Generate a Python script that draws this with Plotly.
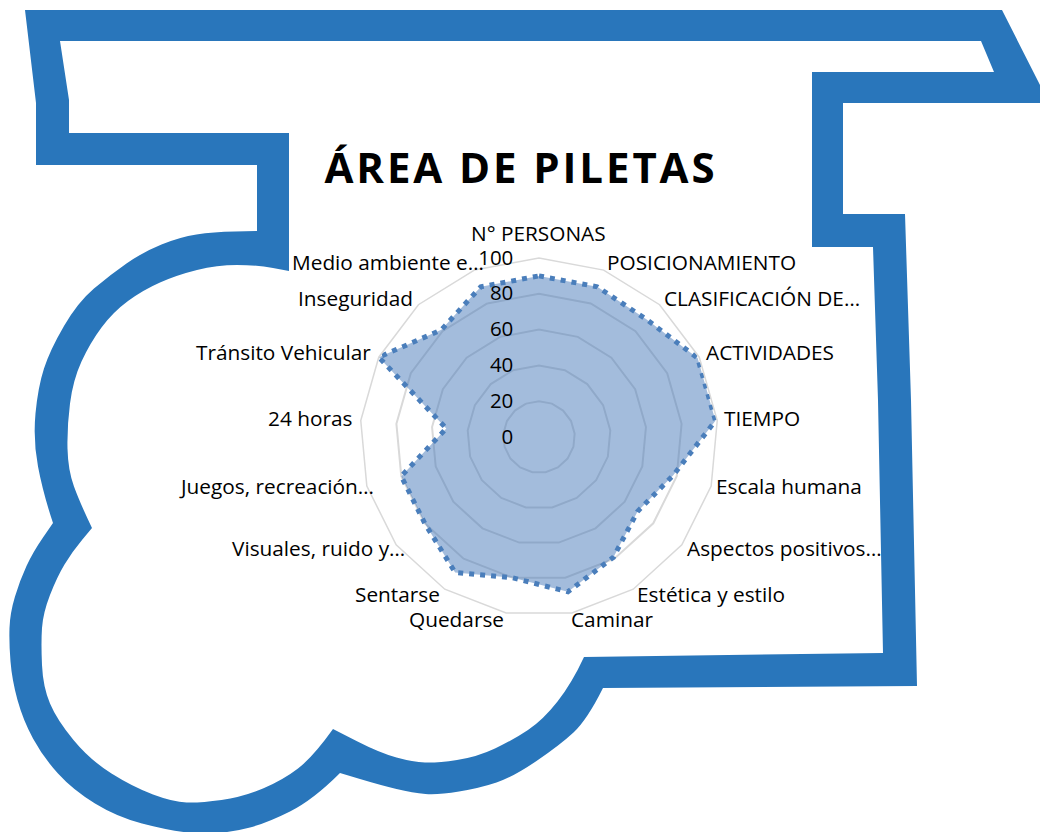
import plotly.graph_objects as go

categories = ['N° PERSONAS', 'POSICIONAMIENTO', 'CLASIFICACIÓN DE…', 'ACTIVIDADES', 'TIEMPO',
              'Escala humana', 'Aspectos positivos…', 'Estética y estilo', 'Caminar', 'Quedarse',
              'Sentarse', 'Visuales, ruido y…', 'Juegos, recreación…', '24 horas',
              'Tránsito Vehicular', 'Inseguridad', 'Medio ambiente e…']
values = [90, 90, 89, 99, 99, 78, 69, 79, 88, 80, 89, 80, 80, 52, 100, 81, 90]
radial_ticks = [0, 20, 40, 60, 80, 100]

W, H = 1040, 832
BLUE = '#2976BB'

# centres of the category labels in pixels, the spreadsheet does not place them evenly around the radar
label_x = [538, 701, 762, 770, 762, 789, 784, 711, 612, 456, 397, 318, 276, 310, 283, 355, 388]
label_y = [233, 262, 298, 352, 418, 486, 548, 594, 619, 619, 594, 548, 486, 418, 352, 298, 262]

# building outline behind the chart, in pixels. Each piece is either straight or a curve
outer_ring = [
    ('line', [(25, 10), (1002, 10), (1040, 85), (1040, 103), (843, 103), (843, 214), (905, 214),
              (911, 400), (917, 686), (603, 688)]),
    ('curve', [(603, 688), (587, 720), (560, 745), (513, 777), (480, 788), (438, 795), (413, 793),
               (380, 785), (340, 773)]),
    ('curve', [(340, 773), (313, 800), (267, 823), (233, 832), (200, 834), (167, 830), (117, 817), (73, 790),
               (43, 757), (23, 720), (12, 680), (9, 643), (10, 613), (20, 580), (33, 552), (53, 523)]),
    ('curve', [(53, 523), (43, 493), (33, 440), (38, 387), (50, 350), (78, 302), (110, 275), (143, 252),
               (180, 237), (213, 232), (257, 231)]),
    ('line', [(257, 231), (257, 165), (36, 165), (36, 103), (25, 10)]),
]
inner_ring = [
    ('line', [(60, 41), (981, 41), (994, 72), (812, 72), (812, 247), (873, 247), (878, 400), (883, 653),
              (584, 657)]),
    ('curve', [(584, 657), (572, 683), (543, 720), (513, 740), (477, 757), (437, 763), (413, 762),
               (380, 753), (333, 729)]),
    ('curve', [(333, 729), (313, 757), (283, 780), (243, 797), (200, 803), (173, 802), (133, 787), (90, 760),
               (57, 720), (43, 687), (41, 643), (43, 613), (57, 577), (72, 552), (92, 528)]),
    ('curve', [(92, 528), (80, 503), (68, 470), (67, 427), (73, 380), (90, 343), (113, 312), (143, 290),
               (177, 275), (217, 265), (257, 265), (289, 271)]),
    ('line', [(289, 271), (289, 133), (69, 133), (69, 100), (60, 41)]),
]


def to_paper(p):
    return f'{p[0] / W:.5f},{1 - p[1] / H:.5f}'


# straight pieces go through every point, curves are smoothed through the midpoints
def ring_path(pieces):
    path = 'M' + to_paper(pieces[0][1][0])
    for kind, pts in pieces:
        if kind == 'line':
            path += ''.join(' L' + to_paper(p) for p in pts[1:])
        else:
            for a, b in zip(pts[1:-1], pts[2:]):
                mid = ((a[0] + b[0]) / 2, (a[1] + b[1]) / 2)
                path += ' Q' + to_paper(a) + ' ' + to_paper(mid)
            path += ' L' + to_paper(pts[-1])
    return path + ' Z'


fig = go.Figure()

fig.add_trace(go.Scatterpolar(
    r=values + values[:1],
    theta=categories + categories[:1],
    mode='lines',
    fill='toself',
    fillcolor='rgba(72,122,185,0.5)',
    line=dict(color='#4A7EBB', width=5, dash='5px,6px'),
    showlegend=False,
))

cx, cy, rad = 539, 437, 179
fig.update_layout(
    width=W,
    height=H,
    margin=dict(l=0, r=0, t=0, b=0),
    paper_bgcolor='white',
    font=dict(family='Open Sans', color='black'),
    title=dict(text='<b>ÁREA DE PILETAS</b>', x=521 / W, xanchor='center', y=1 - 168 / H, yanchor='middle',
               font=dict(family='Open Sans', size=42, color='black')),
    shapes=[dict(type='path', xref='paper', yref='paper', layer='below', fillrule='evenodd',
                 path=ring_path(outer_ring) + ' ' + ring_path(inner_ring),
                 fillcolor=BLUE, line=dict(width=0))],
    polar=dict(
        domain=dict(x=[(cx - rad) / W, (cx + rad) / W], y=[1 - (cy + rad) / H, 1 - (cy - rad) / H]),
        bgcolor='rgba(0,0,0,0)',
        gridshape='linear',
        angularaxis=dict(direction='clockwise', rotation=90, showgrid=False, showline=True,
                         linecolor='#D9D9D9', linewidth=1.5, ticks='', showticklabels=False),
        radialaxis=dict(range=[0, 100], angle=90, tickangle=90, side='counterclockwise', tickvals=radial_ticks,
                        showline=False, ticks='outside', ticklen=18, tickcolor='rgba(0,0,0,0)',
                        gridcolor='#D9D9D9', gridwidth=1.5,
                        tickfont=dict(family='Open Sans', size=20.5)),
    ),
)

for name, x, y in zip(categories, label_x, label_y):
    fig.add_annotation(text=name, x=x / W, y=1 - y / H, xref='paper', yref='paper',
                       xanchor='center', yanchor='middle', showarrow=False,
                       font=dict(family='Open Sans', size=20.8, color='black'))

# plotly has no letter spacing setting, the reference title is spaced out
fig.write_html("out.html", config=dict(displayModeBar=False),
               post_script="document.body.style.margin='0';"
                           "document.querySelector('.gtitle').style.letterSpacing='2.9px';")
